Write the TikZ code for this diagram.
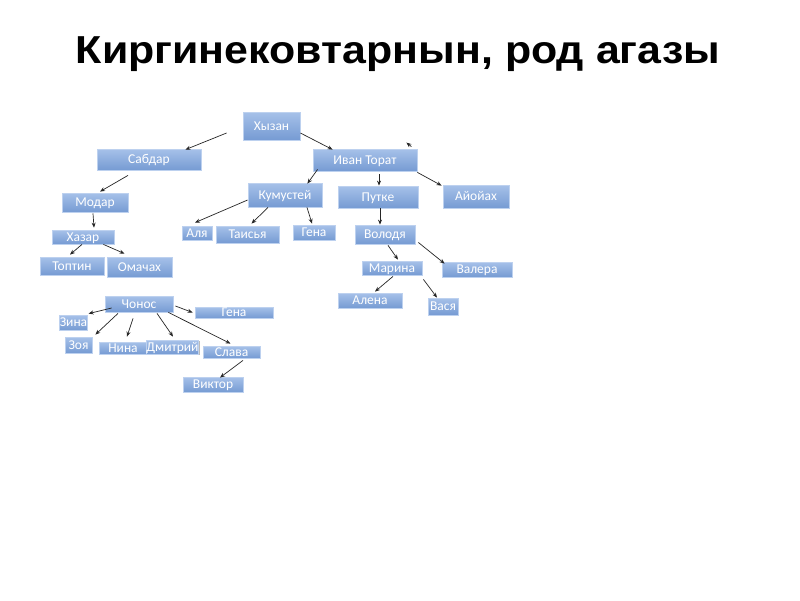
\documentclass[tikz,border=0pt]{standalone}
\usepackage{fontspec}
\setmainfont{Carlito}
\newfontfamily\titlefont{Liberation Sans}
\usetikzlibrary{arrows.meta,shadows}
\definecolor{boxtop}{HTML}{A6C1E9}
\definecolor{boxbot}{HTML}{769BD3}
\definecolor{boxline}{HTML}{BDD1EF}
\tikzset{
  box/.style={rectangle, top color=boxtop, bottom color=boxbot, draw=boxline,
    line width=0.8pt, text=white, font=\fontsize{13.5}{13.5}\selectfont,
    text height=8.5pt, text depth=0pt,
    inner sep=0pt, drop shadow={shadow xshift=1pt, shadow yshift=-1.2pt, opacity=0.45, fill=black!60}},
  bx/.style 2 args={box, minimum width=#1, minimum height=#2},
  arr/.style={-{Stealth[length=5pt,width=4pt]}, line width=0.7pt, draw=black!85}
}
\begin{document}
\begin{tikzpicture}[x=1pt,y=-1pt]
\useasboundingbox[fill=white] (0,0) rectangle (800,600);
\node[font=\titlefont\bfseries\fontsize{39}{39}\selectfont, anchor=base, inner sep=0pt] (title) at (398,63) {\scalebox{1.1}[1]{Киргинековтарнын, род агазы}};
% boxes
\node[bx={57}{28}] (hyz) at (271.5,126) {Хызан};
\node[bx={104}{21}] (sab) at (149,159.5) {Сабдар};
\node[bx={104}{22}] (ivan) at (365,160) {Иван Торат};
\node[bx={74}{24}] (kum) at (285,195) {Кумустей};
\node[bx={80}{22}] (put) at (378,197) {Путке};
\node[bx={66}{23}] (ayo) at (476,196.5) {Айойах};
\node[bx={66}{19}] (mod) at (95,202.5) {Модар};
\node[bx={62}{14}] (haz) at (83,237) {Хазар};
\node[bx={64}{18}] (top) at (72,266) {Топтин};
\node[bx={65}{20}] (oma) at (139.5,267) {Омачах};
\node[bx={30}{14}] (alya) at (197,233) {Аля};
\node[bx={63}{17}] (tai) at (247.5,234.5) {Таисья};
\node[bx={42}{15}] (gena1) at (314,232.5) {Гена};
\node[bx={60}{19}] (vol) at (385,234.5) {Володя};
\node[bx={60}{14}] (mar) at (392,268) {Марина};
\node[bx={70}{15}] (val) at (477,269.5) {Валера};
\node[bx={64}{15}] (ale) at (370,300.5) {Алена};
\node[bx={30}{17}] (vas) at (443,306.5) {Вася};
\node[bx={68}{16}] (cho) at (139,304) {Чонос};
\node[bx={78}{11}] (gena2) at (234,312.5) {Гена};
\node[bx={27}{15}] (zina) at (73.5,322.5) {Зина};
\node[bx={27}{16}] (zoya) at (78.5,345) {Зоя};
\node[bx={48}{12}] (nina) at (123,348) {Нина};
\node[bx={51}{14}] (dmi) at (172.5,347) {Дмитрий};
\node[bx={57}{12}] (sla) at (231.5,352) {Слава};
\node[bx={60}{15}] (vik) at (213,384.5) {Виктор};
% connectors
\draw[arr] ([shift={(-16,7)}]hyz.west) -- ([shift={(-16,1)}]sab.north east);
\draw[arr] ([shift={(0,7)}]hyz.east) -- ([shift={(20,1)}]ivan.north west);
\draw[arr] ([shift={(-6,-2)}]ivan.north east) -- ([shift={(-11,-6)}]ivan.north east);
\draw[arr] ([shift={(5,-2)}]ivan.south west) -- ([shift={(-15,1)}]kum.north east);
\draw[arr] ([shift={(14,3)}]ivan.south) -- ([shift={(1,0)}]put.north);
\draw[arr] ([shift={(0,1)}]ivan.south east) -- ([shift={(-1,1)}]ayo.north west);
\draw[arr] ([shift={(-21,5)}]sab.south) -- ([shift={(5,-1)}]mod.north);
\draw[arr] ([shift={(-2,1)}]mod.south) -- ([shift={(11,-2)}]haz.north);
\draw[arr] ([shift={(-1,0)}]haz.south) -- ([shift={(-2,-2)}]top.north);
\draw[arr] ([shift={(-11,0)}]haz.south east) -- ([shift={(-15,-3)}]oma.north);
\draw[arr] ([shift={(0,5)}]kum.west) -- ([shift={(-2,-3)}]alya.north);
\draw[arr] ([shift={(-17,0)}]kum.south) -- ([shift={(4,-2)}]tai.north);
\draw[arr] ([shift={(22,0)}]kum.south) -- ([shift={(-2,-1)}]gena1.north);
\draw[arr] ([shift={(2,0)}]put.south) -- ([shift={(-5,0)}]vol.north);
\draw[arr] ([shift={(3,1)}]vol.south) -- ([shift={(6,-1)}]mar.north);
\draw[arr] ([shift={(3,8)}]vol.east) -- ([shift={(3,2)}]val.north west);
\draw[arr] ([shift={(1,1)}]mar.south) -- ([shift={(5,-1)}]ale.north);
\draw[arr] ([shift={(1,4)}]mar.south east) -- ([shift={(-6,0)}]vas.north);
\draw[arr] ([shift={(7,4)}]cho.west) -- ([shift={(1,-1)}]zina.north east);
\draw[arr] ([shift={(-21,1)}]cho.south) -- ([shift={(3,-2)}]zoya.north east);
\draw[arr] ([shift={(-6,6)}]cho.south) -- ([shift={(4,-5)}]nina.north);
\draw[arr] ([shift={(18,1)}]cho.south) -- ([shift={(0.5,-3)}]dmi.north);
\draw[arr] ([shift={(-5,0)}]cho.south east) -- ([shift={(-1,-2)}]sla.north);
\draw[arr] ([shift={(2,2)}]cho.east) -- ([shift={(-2,0)}]gena2.west);
\draw[arr] ([shift={(11.5,2)}]sla.south) -- ([shift={(7,1)}]vik.north);
\end{tikzpicture}
\end{document}
